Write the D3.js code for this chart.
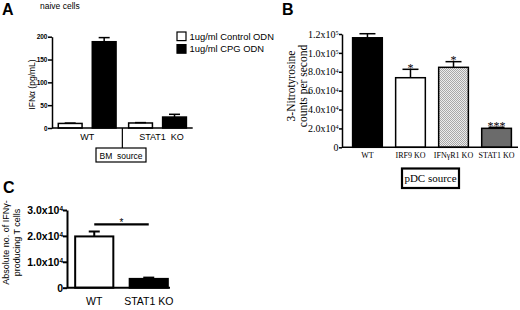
<!DOCTYPE html>
<html>
<head>
  <title>IFN panels</title>
  <script src="https://d3js.org/d3.v7.min.js"></script>
  <style>
    body { margin: 0; background: #fff; }
    text { white-space: pre; }
  </style>
</head>
<body>
  <svg id="chart"></svg>

  <script>
    // panel A data
    var aGroups = ["WT", "STAT1  KO"];
    var aSeries = ["1ug/ml Control ODN", "1ug/ml CPG ODN"];
    var aControl = [10, 11];
    var aControlErr = [0.8, 0.8];
    var aCpg = [189, 24];
    var aCpgErr = [9, 6];
    var aTicks = [0, 50, 100, 150, 200];

    // panel B data
    var bGroups = ["WT", "IRF9 KO", "IFN\u03b3R1 KO", "STAT1 KO"];
    var bMeans = [116000, 73700, 84700, 20100];
    var bErr = [4300, 8900, 6000, 1100];
    var bStars = ["", "*", "*", "***"];
    var bTicks = [0, 20000, 40000, 60000, 80000, 100000, 120000];

    // panel C data
    var cGroups = ["WT", "STAT1 KO"];
    var cMeans = [19800, 3400];
    var cErr = [1900, 500];
    var cTicks = [0, 10000, 20000, 30000];

    var sans = "'Liberation Sans', Arial, sans-serif";
    var serif = "'Liberation Serif', 'Times New Roman', serif";

    var svg = d3.select("#chart")
      .attr("width", 520)
      .attr("height", 310)
      .style("font-family", sans);

    // dotted fill for IFNgR1 bar
    var pat = svg.append("defs").append("pattern")
      .attr("id", "dots")
      .attr("width", 2).attr("height", 2)
      .attr("patternUnits", "userSpaceOnUse");
    pat.append("rect").attr("width", 2).attr("height", 2).attr("fill", "#ececec");
    pat.append("rect").attr("width", 1).attr("height", 1).attr("fill", "#a8a8a8");
    pat.append("rect").attr("x", 1).attr("y", 1).attr("width", 1).attr("height", 1).attr("fill", "#a8a8a8");

    // 10^n tick labels with superscript
    function sciLabel(sel, v) {
      if (v === 0) { sel.text("0"); return; }
      var e = Math.floor(Math.log10(v));
      sel.text((v / Math.pow(10, e)).toFixed(1) + "x10");
      sel.append("tspan").attr("dy", "-0.45em").attr("font-size", "0.62em").text(e);
    }

    // error bar pointing up only
    function errBar(g, cx, yTop, yErr, capW, sw) {
      g.append("line").attr("x1", cx).attr("x2", cx).attr("y1", yTop).attr("y2", yErr)
        .attr("stroke", "#000").attr("stroke-width", sw);
      g.append("line").attr("x1", cx - capW / 2).attr("x2", cx + capW / 2).attr("y1", yErr).attr("y2", yErr)
        .attr("stroke", "#000").attr("stroke-width", sw);
    }

    // panel letters
    svg.append("text").attr("x", 2).attr("y", 15).attr("font-size", 16).attr("font-weight", "bold").text("A");
    svg.append("text").attr("x", 282).attr("y", 15).attr("font-size", 16).attr("font-weight", "bold").text("B");
    svg.append("text").attr("x", 3).attr("y", 193).attr("font-size", 16).attr("font-weight", "bold").text("C");

    // ---------------- panel A ----------------
    var gA = svg.append("g");
    var yA = d3.scaleLinear().domain([0, 200]).range([128, 36.7]);
    var xA = d3.scaleBand().domain(aGroups).range([52, 192.7]);
    var xAin = d3.scaleBand().domain(aSeries).range([0, xA.bandwidth()]).paddingInner(0.3).paddingOuter(0.185);

    gA.append("text").attr("x", 40).attr("y", 9).attr("font-size", 8.5).text("naive cells");

    var aRows = [];
    aGroups.forEach(function(g, i) {
      aRows.push({ g: g, s: aSeries[0], v: aControl[i], e: aControlErr[i], fill: "#fff" });
      aRows.push({ g: g, s: aSeries[1], v: aCpg[i], e: aCpgErr[i], fill: "#000" });
    });
    aRows.forEach(function(d) {
      var x0 = xA(d.g) + xAin(d.s);
      gA.append("rect").attr("x", x0).attr("y", yA(d.v))
        .attr("width", xAin.bandwidth()).attr("height", yA(0) - yA(d.v))
        .attr("fill", d.fill).attr("stroke", "#000").attr("stroke-width", 1.5);
      errBar(gA, x0 + xAin.bandwidth() / 2, yA(d.v), yA(d.v + d.e), 11, 1.5);
    });

    var axA = gA.append("g").attr("transform", "translate(52,0)")
      .call(d3.axisLeft(yA).tickValues(aTicks).tickSize(4).tickSizeOuter(0));
    axA.selectAll("path,line").attr("stroke", "#000").attr("stroke-width", 1.5);
    axA.selectAll("text").attr("font-size", 6.5).attr("font-weight", "bold").attr("font-family", sans).attr("x", -4.5);
    gA.append("line").attr("x1", 52).attr("x2", xA.range()[1]).attr("y1", yA(0)).attr("y2", yA(0))
      .attr("stroke", "#000").attr("stroke-width", 1.5);

    gA.append("text").attr("transform", "translate(34.5,84.5) rotate(-90)")
      .attr("text-anchor", "middle").attr("font-size", 8.5).text("IFN\u03b1 (pg/mL)");

    aGroups.forEach(function(g, i) {
      gA.append("text").attr("x", xA(g) + xA.bandwidth() / 2 + (i ? 4 : 0)).attr("y", 139.5)
        .attr("text-anchor", "middle").attr("font-size", 9).text(g);
    });

    // separator and BM source box
    var sepX = xA(aGroups[1]);
    gA.append("line").attr("x1", sepX).attr("x2", sepX).attr("y1", yA(0)).attr("y2", 148)
      .attr("stroke", "#000").attr("stroke-width", 1.2);
    gA.append("rect").attr("x", 96).attr("y", 148).attr("width", 50).attr("height", 14)
      .attr("fill", "#fff").attr("stroke", "#000").attr("stroke-width", 1.2);
    gA.append("text").attr("x", 121).attr("y", 158.5).attr("text-anchor", "middle")
      .attr("font-size", 8.5).text("BM  source");

    // legend
    aSeries.forEach(function(s, i) {
      gA.append("rect").attr("x", 177).attr("y", 32 + i * 12.6).attr("width", 9).attr("height", 8.6)
        .attr("fill", i ? "#000" : "#fff").attr("stroke", "#000").attr("stroke-width", 1.2);
      gA.append("text").attr("x", 189.5).attr("y", 39.8 + i * 12.6).attr("font-size", 9.4).text(s);
    });

    // ---------------- panel B ----------------
    var gB = svg.append("g").style("font-family", serif);
    var yB = d3.scaleLinear().domain([0, 120000]).range([147.3, 34]);
    var xB = d3.scaleBand().domain(bGroups).range([344, 520]).paddingInner(0.31).paddingOuter(0.2);
    var bFills = ["#000", "#fff", "url(#dots)", "#6b6b6b"];

    bGroups.forEach(function(g, i) {
      var x0 = xB(g), w = xB.bandwidth();
      gB.append("rect").attr("x", x0).attr("y", yB(bMeans[i]))
        .attr("width", w).attr("height", yB(0) - yB(bMeans[i]))
        .attr("fill", bFills[i]).attr("stroke", "#000").attr("stroke-width", 1.5);
      errBar(gB, x0 + w / 2, yB(bMeans[i]), yB(bMeans[i] + bErr[i]), 16, 1.5);
      if (bStars[i]) {
        gB.append("text").attr("x", x0 + w / 2).attr("y", yB(bMeans[i] + bErr[i]) + 2.5)
          .attr("text-anchor", "middle").attr("font-size", 12).text(bStars[i]);
      }
      gB.append("text").attr("x", x0 + w / 2).attr("y", 158)
        .attr("text-anchor", "middle").attr("font-size", 8).text(g);
    });

    var axB = gB.append("g").attr("transform", "translate(342,0)")
      .call(d3.axisLeft(yB).tickValues(bTicks).tickSize(3).tickSizeOuter(0).tickFormat(""));
    axB.selectAll("path,line").attr("stroke", "#000").attr("stroke-width", 1.5);
    axB.selectAll(".tick text").attr("font-size", 10).attr("font-family", serif).attr("x", -3.5)
      .each(function(d) { sciLabel(d3.select(this), d); });
    gB.append("line").attr("x1", 342).attr("x2", 518).attr("y1", yB(0)).attr("y2", yB(0))
      .attr("stroke", "#000").attr("stroke-width", 1.5);

    var yLabB = gB.append("text").attr("transform", "translate(294.5,86) rotate(-90)")
      .attr("text-anchor", "middle").attr("font-size", 11.5);
    yLabB.append("tspan").attr("x", 0).attr("dy", 0).text("3-Nitrotyrosine");
    yLabB.append("tspan").attr("x", 0).attr("dy", 12).text("counts per second");

    gB.append("rect").attr("x", 402).attr("y", 168.5).attr("width", 57).attr("height", 19.5)
      .attr("fill", "#fff").attr("stroke", "#000").attr("stroke-width", 2.2);
    gB.append("text").attr("x", 430.5).attr("y", 182).attr("text-anchor", "middle")
      .attr("font-size", 11).text("pDC source");

    // ---------------- panel C ----------------
    var gC = svg.append("g");
    var yC = d3.scaleLinear().domain([0, 30000]).range([287.7, 210]);
    var xC = d3.scaleBand().domain(cGroups).range([67, 176]).paddingInner(0.3).paddingOuter(0.15);
    var cFills = ["#fff", "#000"];

    cGroups.forEach(function(g, i) {
      var x0 = xC(g), w = xC.bandwidth();
      gC.append("rect").attr("x", x0).attr("y", yC(cMeans[i]))
        .attr("width", w).attr("height", yC(0) - yC(cMeans[i]))
        .attr("fill", cFills[i]).attr("stroke", "#000").attr("stroke-width", 2);
      errBar(gC, x0 + w / 2, yC(cMeans[i]), yC(cMeans[i] + cErr[i]), 11, 2);
      gC.append("text").attr("x", x0 + w / 2).attr("y", 305)
        .attr("text-anchor", "middle").attr("font-size", 10.5).text(g);
    });

    var axC = gC.append("g").attr("transform", "translate(67,0)")
      .call(d3.axisLeft(yC).tickValues(cTicks).tickSize(4).tickSizeOuter(0).tickFormat(""));
    axC.selectAll("path,line").attr("stroke", "#000").attr("stroke-width", 2);
    axC.selectAll(".tick text").attr("font-size", 10.5).attr("font-weight", "bold").attr("font-family", sans).attr("x", -4)
      .each(function(d) { sciLabel(d3.select(this), d); });
    gC.append("line").attr("x1", 67).attr("x2", 170).attr("y1", yC(0)).attr("y2", yC(0))
      .attr("stroke", "#000").attr("stroke-width", 2);

    // significance line
    var sx1 = xC(cGroups[0]) + xC.bandwidth() / 2, sx2 = xC(cGroups[1]) + xC.bandwidth() / 2;
    gC.append("line").attr("x1", sx1).attr("x2", sx2).attr("y1", 224.3).attr("y2", 224.3)
      .attr("stroke", "#000").attr("stroke-width", 2.2);
    gC.append("text").attr("x", (sx1 + sx2) / 2).attr("y", 225.5).attr("text-anchor", "middle")
      .attr("font-size", 10).text("*");

    var yLabC = gC.append("text").attr("transform", "translate(9,242.5) rotate(-90)")
      .attr("text-anchor", "middle").attr("font-size", 9);
    yLabC.append("tspan").attr("x", 0).attr("dy", 0).text("Absolute no. of IFN\u03b3-");
    yLabC.append("tspan").attr("x", 0).attr("dy", 10.5).text("producing T cells");
  </script>
</body>
</html>
